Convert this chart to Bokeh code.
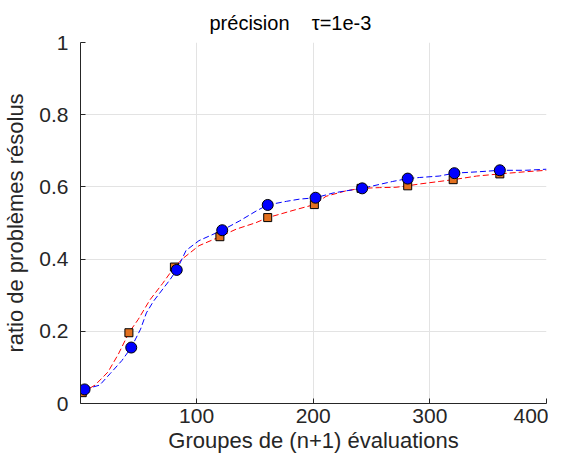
from bokeh.plotting import figure
from bokeh.models import FixedTicker
from bokeh.embed import file_html
from bokeh.resources import INLINE

# ---- data ----
sq_x = [2, 42, 81, 120, 161, 201, 241, 281, 320, 360]
sq_y = [0.030, 0.196, 0.378, 0.462, 0.515, 0.551, 0.596, 0.603, 0.620, 0.636]

ci_x = [4, 44, 83, 122, 161, 202, 242, 281, 321, 360]
ci_y = [0.039, 0.155, 0.370, 0.480, 0.550, 0.570, 0.596, 0.623, 0.638, 0.646]

red_x = [2, 13, 24, 33, 42, 50, 60, 71, 81, 88, 102, 120, 134, 151, 161, 171, 185,
         201, 211, 228, 241, 257, 271, 281, 291, 308, 320, 340, 360, 382, 400]
red_y = [0.030, 0.051, 0.087, 0.137, 0.196, 0.233, 0.287, 0.333, 0.378, 0.401, 0.437,
         0.462, 0.483, 0.501, 0.515, 0.524, 0.537, 0.551, 0.574, 0.589, 0.596, 0.598,
         0.599, 0.603, 0.608, 0.615, 0.620, 0.630, 0.636, 0.642, 0.646]

blue_x = [4, 17, 26, 36, 44, 52, 57, 63, 77, 83, 91, 102, 122, 137, 151, 161, 177, 188,
          202, 217, 228, 242, 257, 268, 281, 291, 308, 321, 342, 360, 382, 400]
blue_y = [0.039, 0.051, 0.083, 0.119, 0.155, 0.206, 0.251, 0.283, 0.342, 0.370, 0.424,
          0.451, 0.480, 0.506, 0.533, 0.550, 0.560, 0.566, 0.570, 0.583, 0.589, 0.596,
          0.607, 0.615, 0.623, 0.626, 0.630, 0.638, 0.642, 0.646, 0.646, 0.649]

x_ticks = [100, 200, 300, 400]
y_ticks = [0, 0.2, 0.4, 0.6, 0.8, 1]
y_tick_labels = ["0", "0.2", "0.4", "0.6", "0.8", "1"]
title_text = "précision\u00a0\u00a0\u00a0\u00a0τ=1e-3"

FONT = "Liberation Sans"
TXT = "#262626"

p = figure(width=548, height=455, x_range=(0.5, 400), y_range=(0, 1),
           output_backend="svg", toolbar_location=None,
           min_border_left=80, min_border_right=2, min_border_top=41, min_border_bottom=50)
p.outline_line_color = None
p.background_fill_color = "white"
p.border_fill_color = "white"

p.title.text = title_text
p.title.text_font = FONT
p.title.text_font_size = "20px"
p.title.text_font_style = "normal"
p.title.text_color = "black"
p.title.align = "left"
p.title.offset = 129
p.title.standoff = 18

for ax in (p.xaxis[0], p.yaxis[0]):
    ax.major_label_text_font = FONT
    ax.major_label_text_font_size = "21px"
    ax.major_label_text_color = TXT
    ax.axis_label_text_font = FONT
    ax.axis_label_text_font_size = "22px"
    ax.axis_label_text_font_style = "normal"
    ax.axis_label_text_color = TXT
    ax.axis_line_color = TXT
    ax.major_tick_line_color = TXT
    ax.major_tick_in = 5
    ax.major_tick_out = 0
    ax.minor_tick_line_color = None

p.xaxis.ticker = FixedTicker(ticks=x_ticks)
p.yaxis.ticker = FixedTicker(ticks=y_ticks)
p.yaxis.major_label_overrides = {t: s for t, s in zip(y_ticks, y_tick_labels)}
p.xaxis.axis_label = "Groupes de (n+1) évaluations"
p.yaxis.axis_label = "ratio de problèmes résolus"
p.yaxis.major_label_standoff = 12
p.xaxis.major_label_standoff = 5
p.xaxis.axis_label_standoff = 2
p.yaxis.axis_label_standoff = 8

p.xgrid.grid_line_color = "#e3e3e3"
p.ygrid.grid_line_color = "#e3e3e3"

p.line(red_x, red_y, line_color="#ff0000", line_width=1, line_dash="6 3")
p.line(blue_x, blue_y, line_color="#0000ff", line_width=1, line_dash="6 3")
p.scatter(sq_x, sq_y, marker="square", size=8, fill_color="#e2701f",
          line_color="black", line_width=1)
p.scatter(ci_x, ci_y, marker="circle", size=11, fill_color="#0000ff",
          line_color="black", line_width=1)

open("out.html", "w").write(file_html(p, INLINE))
